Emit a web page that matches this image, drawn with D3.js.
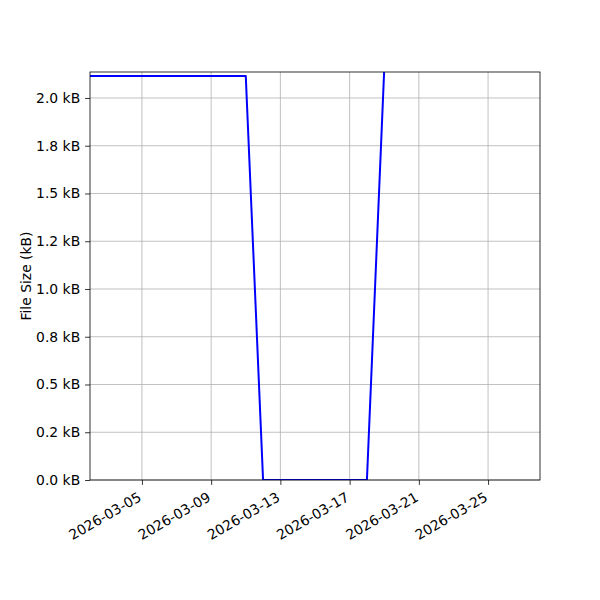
<!DOCTYPE html>
<html>
<head>
<meta charset="utf-8">
<script src="https://cdn.jsdelivr.net/npm/d3@7"></script>
<style>
  body { margin: 0; background: #fff; }
  svg text { font-family: "DejaVu Sans", sans-serif; font-size: 13.9px; fill: #000; }
</style>
</head>
<body>
<div id="vis"></div>
<script>
// data: file size in bytes per day
var dates = ['2026-03-02','2026-03-03','2026-03-04','2026-03-05','2026-03-06','2026-03-07',
             '2026-03-08','2026-03-09','2026-03-10','2026-03-11','2026-03-12','2026-03-13',
             '2026-03-14','2026-03-15','2026-03-16','2026-03-17','2026-03-18','2026-03-19'];
var sizes = [2115, 2115, 2115, 2115, 2115, 2115, 2115, 2115, 2115, 2115,
             0, 0, 0, 0, 0, 0, 0, 2150];

var yTicks = [0, 250, 500, 750, 1000, 1250, 1500, 1750, 2000];
var yTickLabels = ['0.0 kB','0.2 kB','0.5 kB','0.8 kB','1.0 kB','1.2 kB','1.5 kB','1.8 kB','2.0 kB'];
var xTicks = ['2026-03-05','2026-03-09','2026-03-13','2026-03-17','2026-03-21','2026-03-25'];
var xDomain = ['2026-03-02','2026-03-28'];

var width = 600, height = 600;
var margin = { top: 72, left: 90, bottom: 120, right: 60 };
var innerW = width - margin.left - margin.right;
var innerH = height - margin.top - margin.bottom;

var parse = d3.utcParse('%Y-%m-%d');

var x = d3.scaleUtc()
  .domain(xDomain.map(parse))
  .range([0, innerW]);

var y = d3.scaleLinear()
  .domain([0, 2136])
  .range([innerH, 0]);

var svg = d3.select('#vis').append('svg')
  .attr('width', width)
  .attr('height', height);

var g = svg.append('g')
  .attr('transform', 'translate(' + margin.left + ',' + margin.top + ')');

svg.append('defs').append('clipPath').attr('id', 'clip')
  .append('rect').attr('width', innerW).attr('height', innerH);

// grid
g.append('g').selectAll('line.gx')
  .data(xTicks).enter().append('line')
  .attr('x1', function(d) { return x(parse(d)); })
  .attr('x2', function(d) { return x(parse(d)); })
  .attr('y1', 0).attr('y2', innerH)
  .attr('stroke', '#b0b0b0').attr('stroke-width', 0.8);

g.append('g').selectAll('line.gy')
  .data(yTicks).enter().append('line')
  .attr('x1', 0).attr('x2', innerW)
  .attr('y1', function(d) { return y(d); })
  .attr('y2', function(d) { return y(d); })
  .attr('stroke', '#b0b0b0').attr('stroke-width', 0.8);

// line
var line = d3.line()
  .x(function(d, i) { return x(parse(dates[i])); })
  .y(function(d) { return y(d); });

g.append('path')
  .datum(sizes)
  .attr('clip-path', 'url(#clip)')
  .attr('fill', 'none')
  .attr('stroke', '#0000ff')
  .attr('stroke-width', 2)
  .attr('stroke-linejoin', 'round')
  .attr('d', line);

// axes
var xAxis = d3.axisBottom(x)
  .tickValues(xTicks.map(parse))
  .tickFormat(d3.utcFormat('%Y-%m-%d'))
  .tickSize(4.9)
  .tickPadding(3);

var gx = g.append('g')
  .attr('transform', 'translate(0,' + innerH + ')')
  .call(xAxis);
gx.select('.domain').remove();
gx.selectAll('.tick line').attr('stroke', '#000').attr('stroke-width', 0.8);
gx.selectAll('.tick text')
  .attr('font-size', null)
  .attr('text-anchor', 'end')
  .attr('dy', null)
  .attr('y', 0)
  .attr('transform', 'translate(0,20) rotate(-30)');

var yAxis = d3.axisLeft(y)
  .tickValues(yTicks)
  .tickFormat(function(d, i) { return yTickLabels[i]; })
  .tickSize(4.9)
  .tickPadding(4.9);

var gy = g.append('g').call(yAxis);
gy.select('.domain').remove();
gy.selectAll('.tick line').attr('stroke', '#000').attr('stroke-width', 0.8);
gy.selectAll('.tick text').attr('font-size', null);
gy.attr('font-size', null).attr('font-family', null);
gx.attr('font-size', null).attr('font-family', null);

// spines
g.append('rect')
  .attr('width', innerW).attr('height', innerH)
  .attr('fill', 'none').attr('stroke', '#000').attr('stroke-width', 0.8);

// y label
g.append('text')
  .attr('transform', 'translate(-59,' + (innerH / 2) + ') rotate(-90)')
  .attr('text-anchor', 'middle')
  .text('File Size (kB)');
</script>
</body>
</html>
